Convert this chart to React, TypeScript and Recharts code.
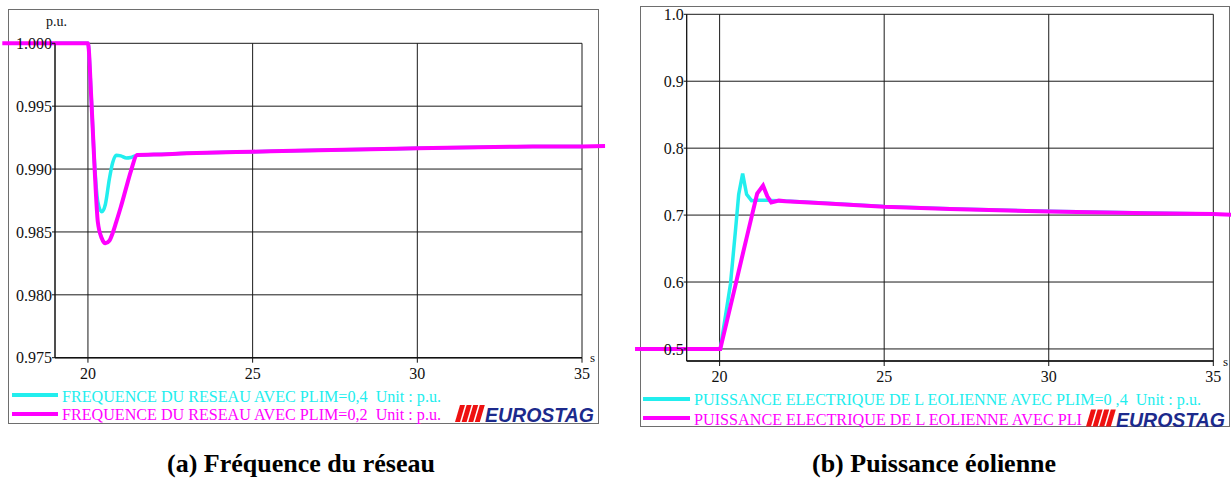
import React from 'react';
import { LineChart, Line, XAxis, YAxis, CartesianGrid, ReferenceLine } from 'recharts';

const SERIF = '"Liberation Serif", "Times New Roman", serif';
const CYAN = '#22eeee';
const MAGENTA = '#ff00ff';

// (a) frequence du reseau, p.u.
const freqTime = [19, 20, 20.1, 20.2, 20.3, 20.42, 20.53, 20.65, 20.75, 20.86, 21.0, 21.17, 21.3, 21.5, 22, 23, 25, 27, 30, 33, 35];
const freqPlim04 = [1.0, 1.0, 0.9957, 0.9905, 0.9874, 0.9866, 0.9872, 0.9892, 0.9905, 0.9911, 0.99105, 0.99088, 0.99092, 0.9911, 0.99115, 0.99125, 0.99138, 0.9915, 0.99165, 0.99178, 0.9918];
const freqPlim02 = [1.0, 1.0, 0.9957, 0.9902, 0.9858, 0.9845, 0.9841, 0.9843, 0.9849, 0.9858, 0.987, 0.9886, 0.9898, 0.99112, 0.99115, 0.99125, 0.99138, 0.9915, 0.99165, 0.99178, 0.9918];
const freqLeadIn = [{ x: 17.4, y: 1.0 }, { x: 19, y: 1.0 }];
const freqTail = [{ x: 35, y: 0.9918 }, { x: 35.7, y: 0.99184 }];
const freqYTicks = [0.975, 0.98, 0.985, 0.99, 0.995, 1.0];

// (b) puissance electrique de l'eolienne, p.u.
const powerTime = [19, 20.02, 20.33, 20.48, 20.58, 20.7, 20.82, 20.97, 21.14, 21.32, 21.45, 21.57, 21.8, 22, 23, 25, 27, 30, 33, 35];
const powerPlim04 = [0.5, 0.5, 0.597, 0.676, 0.731, 0.762, 0.731, 0.7216, 0.7222, 0.7222, 0.722, 0.7218, 0.7215, 0.721, 0.7185, 0.7128, 0.7095, 0.7058, 0.7032, 0.7018];
const powerPlim02 = [0.5, 0.5, 0.564, 0.595, 0.616, 0.641, 0.666, 0.697, 0.732, 0.744, 0.728, 0.719, 0.7216, 0.7208, 0.7182, 0.7124, 0.709, 0.7054, 0.7028, 0.7015];
const powerLeadIn = [{ x: 17.43, y: 0.5 }, { x: 19, y: 0.5 }];
const powerTail = [{ x: 35, y: 0.7015 }, { x: 35.55, y: 0.7005 }];
const powerYTicks = [0.5, 0.6, 0.7, 0.8, 0.9, 1.0];

const timeTicks = [20, 25, 30, 35];

const freqData = freqTime.map((t, i) => ({ t, plim04: freqPlim04[i], plim02: freqPlim02[i] }));
const powerData = powerTime.map((t, i) => ({ t, plim04: powerPlim04[i], plim02: powerPlim02[i] }));

const XTick = ({ x, y, payload }: any) => (
  <text x={x} y={y} dy="0.71em" textAnchor="middle" fontFamily={SERIF} fontSize={16} fill="#111">
    {payload.value}
  </text>
);

const makeYTick = (digits: number) => ({ x, y, payload }: any) => (
  <text x={x} y={y} dy="0.355em" textAnchor="end" fontFamily={SERIF} fontSize={16} fill="#111">
    {Number(payload.value).toFixed(digits)}
  </text>
);

const Logo = ({ x, y }: { x: number; y: number }) => (
  <g>
    {[0, 1, 2, 3].map(i => {
      const x0 = x + 1 + i * 6.6;
      return (
        <polygon
          key={i}
          points={`${x0 + 5},${y} ${x0 + 10},${y} ${x0 + 5},${y + 17} ${x0},${y + 17}`}
          fill="#ee1111"
        />
      );
    })}
    <text
      x={x + 31}
      y={y + 17}
      fontFamily='"Liberation Sans", Arial, sans-serif'
      fontStyle="italic"
      fontWeight="bold"
      fontSize={20}
      fill="#1c2a8c"
      textLength={109}
      lengthAdjust="spacingAndGlyphs"
    >
      EUROSTAG
    </text>
  </g>
);

const LegendRow = ({ x, lineY, baseY, color, text, width, lineLen }: any) => (
  <g>
    <line x1={x} x2={x + lineLen} y1={lineY} y2={lineY} stroke={color} strokeWidth={4} />
    <text
      x={x + lineLen + 4}
      y={baseY}
      fontFamily={SERIF}
      fontSize={17}
      fill={color}
      textLength={width}
      lengthAdjust="spacingAndGlyphs"
      style={{ whiteSpace: 'pre' }}
    >
      {text}
    </text>
  </g>
);

const Panel = ({ data, yDomain, yTicks, digits, leadIn, tail, margin, width, curve }: any) => (
  <LineChart width={width} height={440} data={data} margin={margin}>
    <CartesianGrid stroke="#1a1a1a" strokeWidth={1} />
    <XAxis
      dataKey="t"
      type="number"
      domain={[19, 35]}
      ticks={timeTicks}
      height={30}
      tickSize={5}
      tickMargin={5}
      axisLine={{ stroke: '#111', strokeWidth: 1.5 }}
      tickLine={{ stroke: '#111' }}
      tick={<XTick />}
    />
    <YAxis
      type="number"
      domain={yDomain}
      ticks={yTicks}
      width={50}
      tickSize={3}
      tickMargin={0}
      axisLine={{ stroke: '#111' }}
      tickLine={{ stroke: '#111' }}
      tick={makeYTick(digits)}
    />
    <Line dataKey="plim04" type={curve} stroke={CYAN} strokeWidth={3.5} dot={false} isAnimationActive={false} />
    <Line dataKey="plim02" type={curve} stroke={MAGENTA} strokeWidth={4} dot={false} isAnimationActive={false} />
    <ReferenceLine segment={leadIn} ifOverflow="visible" stroke={MAGENTA} strokeWidth={4} />
    <ReferenceLine segment={tail} ifOverflow="visible" stroke={MAGENTA} strokeWidth={4} />
  </LineChart>
);

export default function App() {
  return (
    <div style={{ position: 'absolute', left: 0, top: 0, width: 1231, height: 479, background: '#fff', overflow: 'hidden' }}>
      <div style={{ position: 'absolute', left: 8, top: 9, width: 591, height: 415, border: '1.5px solid #6e6e6e', boxSizing: 'border-box' }} />
      <div style={{ position: 'absolute', left: 640, top: 6, width: 590, height: 421, border: '1.5px solid #6e6e6e', boxSizing: 'border-box' }} />

      <div style={{ position: 'absolute', left: 0, top: 0 }}>
        <Panel
          data={freqData}
          yDomain={[0.975, 1.0]}
          yTicks={freqYTicks}
          digits={3}
          leadIn={freqLeadIn}
          tail={freqTail}
          width={620}
          margin={{ top: 43.3, right: 38, bottom: 52.3, left: 5 }}
          curve="monotone"
        />
      </div>
      <div style={{ position: 'absolute', left: 620, top: 0 }}>
        <Panel
          data={powerData}
          yDomain={[0.482, 1.0]}
          yTicks={powerYTicks}
          digits={1}
          leadIn={powerLeadIn}
          tail={powerTail}
          width={611}
          margin={{ top: 14.3, right: 17.7, bottom: 49, left: 16.7 }}
          curve="linear"
        />
      </div>

      <svg width={1231} height={479} style={{ position: 'absolute', left: 0, top: 0, pointerEvents: 'none' }}>
        <text x={46} y={26} fontFamily={SERIF} fontSize={14} fill="#111">p.u.</text>
        <text x={590} y={362} fontFamily={SERIF} fontSize={13} fill="#111">s</text>
        <text x={1223} y={366} fontFamily={SERIF} fontSize={13} fill="#111">s</text>

        <LegendRow x={12} lineY={395} baseY={401.5} color={CYAN} lineLen={46} width={379}
          text="FREQUENCE DU RESEAU AVEC PLIM=0,4  Unit : p.u." />
        <LegendRow x={12} lineY={414} baseY={420} color={MAGENTA} lineLen={46} width={379}
          text="FREQUENCE DU RESEAU AVEC PLIM=0,2  Unit : p.u." />
        <Logo x={454} y={405} />

        <LegendRow x={643} lineY={399} baseY={405} color={CYAN} lineLen={47} width={507}
          text="PUISSANCE ELECTRIQUE DE L EOLIENNE AVEC PLIM=0 ,4  Unit : p.u." />
        <LegendRow x={643} lineY={418} baseY={425} color={MAGENTA} lineLen={47} width={388}
          text="PUISSANCE ELECTRIQUE DE L EOLIENNE AVEC PLI" />
        <Logo x={1085} y={409.5} />

        <text x={167} y={471.5} fontFamily={SERIF} fontWeight="bold" fontSize={26} fill="#000">(a) Fréquence du réseau</text>
        <text x={812} y={471.5} fontFamily={SERIF} fontWeight="bold" fontSize={26} fill="#000">(b) Puissance éolienne</text>
      </svg>
    </div>
  );
}
